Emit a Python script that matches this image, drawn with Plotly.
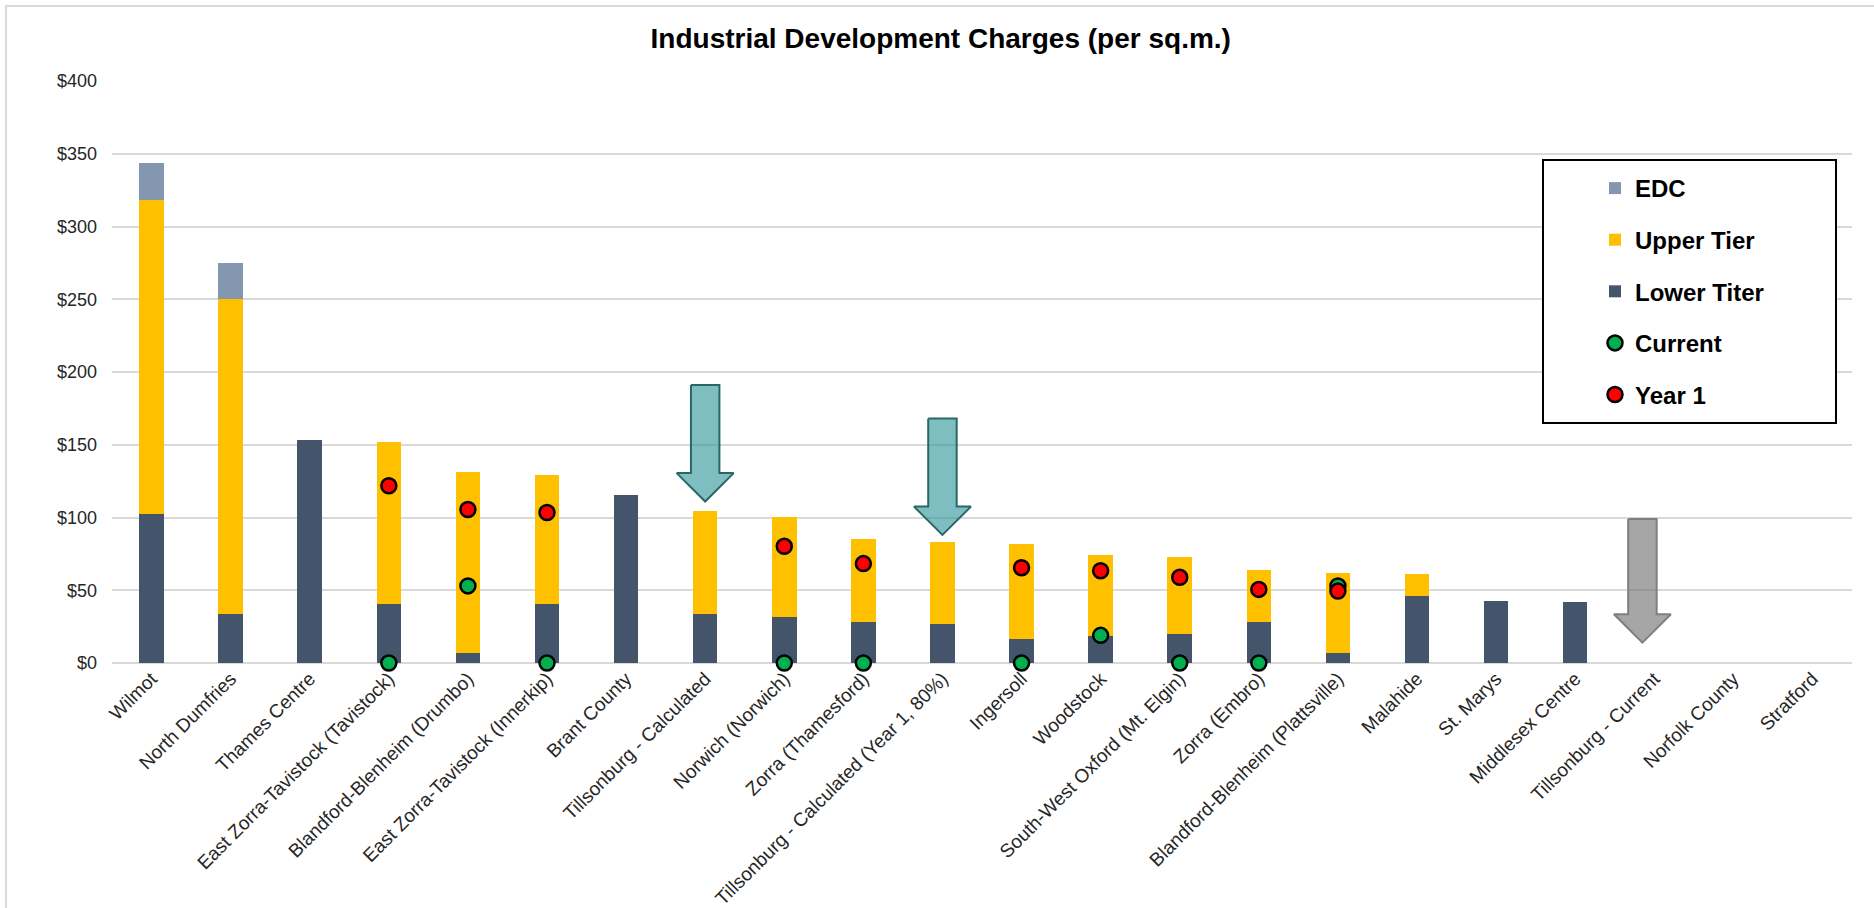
import plotly.graph_objects as go

# Municipalities compared
categories = [
    "Wilmot", "North Dumfries", "Thames Centre", "East Zorra-Tavistock (Tavistock)",
    "Blandford-Blenheim (Drumbo)", "East Zorra-Tavistock (Innerkip)", "Brant County",
    "Tillsonburg - Calculated", "Norwich (Norwich)", "Zorra (Thamesford)",
    "Tillsonburg - Calculated (Year 1, 80%)", "Ingersoll", "Woodstock",
    "South-West Oxford (Mt. Elgin)", "Zorra (Embro)", "Blandford-Blenheim (Plattsville)",
    "Malahide", "St. Marys", "Middlesex Centre", "Tillsonburg - Current",
    "Norfolk County", "Stratford",
]

# Stacked charge components ($ per sq.m.)
lower_tier = [102.3, 34.0, 153.1, 40.7, 7.1, 40.7, 115.2, 34.0, 31.3, 28.5, 27.1,
              16.3, 18.6, 20.0, 28.5, 7.1, 46.2, 42.8, 42.1, None, None, None]
upper_tier = [215.8, 216.0, None, 111.0, 124.2, 88.7, None, 70.4, 68.9, 56.8, 56.3,
              65.5, 55.9, 53.1, 35.2, 54.7, 14.7, None, None, None, None, None]
edc = [25.5, 24.8, None, None, None, None, None, None, None, None, None,
       None, None, None, None, None, None, None, None, None, None, None]

# Point markers ($ per sq.m.)
current = [None, None, None, 0, 53, 0, None, None, 0, 0, None,
           0, 19, 0, 0, 53, None, None, None, None, None, None]
year_1 = [None, None, None, 121.8, 105.5, 103.4, None, None, 80.2, 68.3, None,
          65.5, 63.4, 58.9, 50.6, 49.4, None, None, None, None, None, None]

# Value axis ticks
y_ticks = [0, 50, 100, 150, 200, 250, 300, 350, 400]
y_tick_labels = ["$0", "$50", "$100", "$150", "$200", "$250", "$300", "$350", "$400"]

# Down-arrow callouts: category, shaft top, tip value, horizontal nudge
arrow_categories = ["Tillsonburg - Calculated", "Tillsonburg - Calculated (Year 1, 80%)",
                    "Tillsonburg - Current"]
arrow_tops = [191, 168, 99]
arrow_tips = [111, 88, 14]
arrow_nudges = [0.0, 0.0, -0.15]
arrow_fills = ["rgba(47,150,153,0.62)", "rgba(47,150,153,0.62)", "rgba(110,110,110,0.61)"]
arrow_lines = ["#2B6667", "#2B6667", "#7F7F7F"]

FONT = "Arial, Liberation Sans, sans-serif"
C_LOWER = "#44546A"
C_UPPER = "#FFC000"
C_EDC = "#8497B0"
GRID = "#D9D9D9"

fig = go.Figure()

fig.add_trace(go.Bar(x=categories, y=lower_tier, name="Lower Titer",
                     marker=dict(color=C_LOWER, line=dict(width=0)),
                     legendrank=3, legendgroup="c"))
fig.add_trace(go.Bar(x=categories, y=upper_tier, name="Upper Tier",
                     marker=dict(color=C_UPPER, line=dict(width=0)),
                     legendrank=2, legendgroup="b"))
fig.add_trace(go.Bar(x=categories, y=edc, name="EDC",
                     marker=dict(color=C_EDC, line=dict(width=0)),
                     legendrank=1, legendgroup="a"))

fig.add_trace(go.Scatter(x=categories, y=current, name="Current", mode="markers",
                         marker=dict(color="#00B050", size=15,
                                     line=dict(color="#000000", width=2.5)),
                         cliponaxis=False, legendrank=4, legendgroup="d"))
fig.add_trace(go.Scatter(x=categories, y=year_1, name="Year 1", mode="markers",
                         marker=dict(color="#FF0000", size=15,
                                     line=dict(color="#000000", width=2.5)),
                         cliponaxis=False, legendrank=5, legendgroup="e"))

# Arrows on an overlaid linear axis that shares the category positions
head_len = 19.5
shaft_half = 0.18
head_half = 0.36
for cat, top, tip, nudge, fc, lc in zip(arrow_categories, arrow_tops, arrow_tips,
                                        arrow_nudges, arrow_fills, arrow_lines):
    c = categories.index(cat) + nudge
    base = tip + head_len
    xs = [c - shaft_half, c + shaft_half, c + shaft_half, c + head_half, c,
          c - head_half, c - shaft_half, c - shaft_half]
    ys = [top, top, base, base, tip, base, base, top]
    fig.add_trace(go.Scatter(x=xs, y=ys, xaxis="x2", yaxis="y", mode="lines",
                             fill="toself", fillcolor=fc,
                             line=dict(color=lc, width=2),
                             showlegend=False, hoverinfo="skip"))

W, H = 1874, 908
L, R, T, B = 112, 22, 81, 245
pw, ph = W - L - R, H - T - B


def px(x):
    return (x - L) / pw


def py(y):
    return (H - B - y) / ph


fig.update_layout(
    width=W, height=H,
    margin=dict(l=L, r=R, t=T, b=B, pad=0),
    paper_bgcolor="white", plot_bgcolor="white",
    barmode="stack", bargap=0.69,
    font=dict(family=FONT, color="#404040"),
    title=dict(text="<b>Industrial Development Charges (per sq.m.)</b>",
               x=0.502, xanchor="center", y=1 - 38 / H, yanchor="middle",
               font=dict(size=28, color="#000000", family=FONT)),
    xaxis=dict(type="category", tickangle=-45, tickfont=dict(size=19, color="#262626"),
               showgrid=False, showline=False, ticks="", automargin=False,
               range=[-0.5, len(categories) - 0.5]),
    xaxis2=dict(overlaying="x", range=[-0.5, len(categories) - 0.5], visible=False,
                fixedrange=True),
    yaxis=dict(range=[0, 400], tickmode="array", tickvals=y_ticks, ticktext=y_tick_labels,
               tickfont=dict(size=18, color="#262626"),
               showgrid=True, gridcolor=GRID, gridwidth=2,
               zeroline=True, zerolinecolor=GRID, zerolinewidth=2,
               showline=False, ticks="", ticklabelstandoff=14, automargin=False),
    legend=dict(x=px(1595), xanchor="left", y=py(166), yanchor="top",
                bgcolor="rgba(0,0,0,0)", borderwidth=0,
                font=dict(size=24, color="#000000", family=FONT),
                tracegroupgap=17.4, traceorder="grouped"),
    showlegend=True,
    shapes=[
        # legend frame
        dict(type="rect", xref="paper", yref="paper",
             x0=px(1543), x1=px(1836), y0=py(423), y1=py(160),
             line=dict(color="#000000", width=2), fillcolor="white", layer="above"),
        # outer chart frame
        dict(type="rect", xref="paper", yref="paper",
             x0=px(6), x1=px(1890), y0=py(920), y1=py(6),
             line=dict(color=GRID, width=2), fillcolor="rgba(0,0,0,0)", layer="above"),
    ],
)

# bold legend labels
for tr in fig.data:
    if tr.showlegend is not False and tr.name:
        tr.name = f"<b>{tr.name}</b>"

fig.write_html("out.html")
